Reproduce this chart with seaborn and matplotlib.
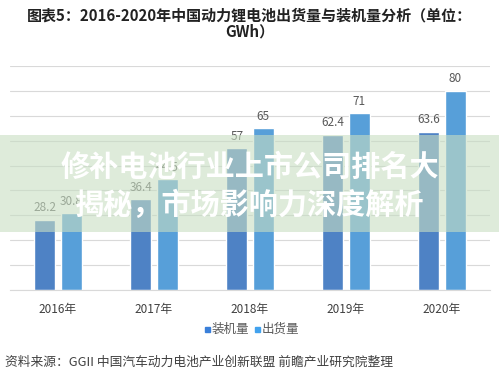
import matplotlib
matplotlib.use("Agg")
import matplotlib.pyplot as plt
from matplotlib.patches import Rectangle
import pandas as pd
import seaborn as sns

# 数据
years = ["2016年", "2017年", "2018年", "2019年", "2020年"]
installed = [28.2, 36.4, 57, 62.4, 63.6]     # 装机量
shipped = [30.8, 44.5, 65, 71, 80]           # 出货量
series_names = ["装机量", "出货量"]
colors = ["#3a7fd9", "#42a2ee"]

df = pd.DataFrame({
    "year": years * 2,
    "value": installed + shipped,
    "series": [series_names[0]] * len(years) + [series_names[1]] * len(years),
})

sns.set_style("white")
plt.rcParams["font.family"] = ["Noto Sans CJK SC", "DejaVu Sans"]

fig = plt.figure(figsize=(4.99, 3.68), dpi=100)
fig.patch.set_facecolor("white")
ax = fig.add_axes([10 / 499, 78 / 368, 480 / 499, 224 / 368])

sns.barplot(data=df, x="year", y="value", hue="series", palette=colors,
            width=0.55, gap=0.2, ax=ax, legend=False, zorder=2)

for cont in ax.containers:
    ax.bar_label(cont, fmt="%g", padding=4, fontsize=8.5, color="#595959")

ax.set_ylim(0, 90)
ax.set_yticks(range(0, 91, 10))
ax.yaxis.grid(True, color="#d9d9d9", linewidth=0.8, zorder=0)
ax.set_axisbelow(True)
ax.tick_params(axis="y", left=False, labelleft=False)
ax.tick_params(axis="x", bottom=False, labelsize=8.5, colors="#404040", pad=6)
ax.set_xlabel("")
ax.set_ylabel("")
for side in ["top", "right", "left"]:
    ax.spines[side].set_visible(False)
ax.spines["bottom"].set_color("#d9d9d9")

# 标题
fig.text(0.5, 1 - 16 / 368, "图表5：2016-2020年中国动力锂电池出货量与装机量分析（单位：",
         ha="center", va="center", fontsize=10.8, fontweight="bold", color="#222222")
fig.text(0.5, 1 - 31 / 368, "GWh）", ha="center", va="center",
         fontsize=10.8, fontweight="bold", color="#222222")

# 图例
lx = 205 / 499
ly = 1 - 329 / 368
for i, name in enumerate(series_names):
    x0 = lx + i * 50 / 499
    fig.patches.append(Rectangle((x0, ly - 2.5 / 368), 5 / 499, 5 / 368,
                                 transform=fig.transFigure, color=colors[i]))
    fig.text(x0 + 7 / 499, ly, name, ha="left", va="center",
             fontsize=9, color="#595959")

# 资料来源
fig.text(5 / 499, 1 - 362 / 368, "资料来源：GGII 中国汽车动力电池产业创新联盟 前瞻产业研究院整理",
         ha="left", va="center", fontsize=9.2, color="#404040")

# 横幅遮罩
fig.patches.append(Rectangle((0, 1 - 232 / 368), 1, 97 / 368,
                             transform=fig.transFigure, facecolor="#c8dec2",
                             alpha=0.6, edgecolor="none", zorder=10))
fig.text(0.5, 1 - 167 / 368, "修补电池行业上市公司排名大", ha="center", va="center",
         fontsize=21, fontweight="bold", color="white", zorder=11)
fig.text(0.5, 1 - 205 / 368, "揭秘，市场影响力深度解析", ha="center", va="center",
         fontsize=21, fontweight="bold", color="white", zorder=11)

fig.savefig("out.png", dpi=100)
